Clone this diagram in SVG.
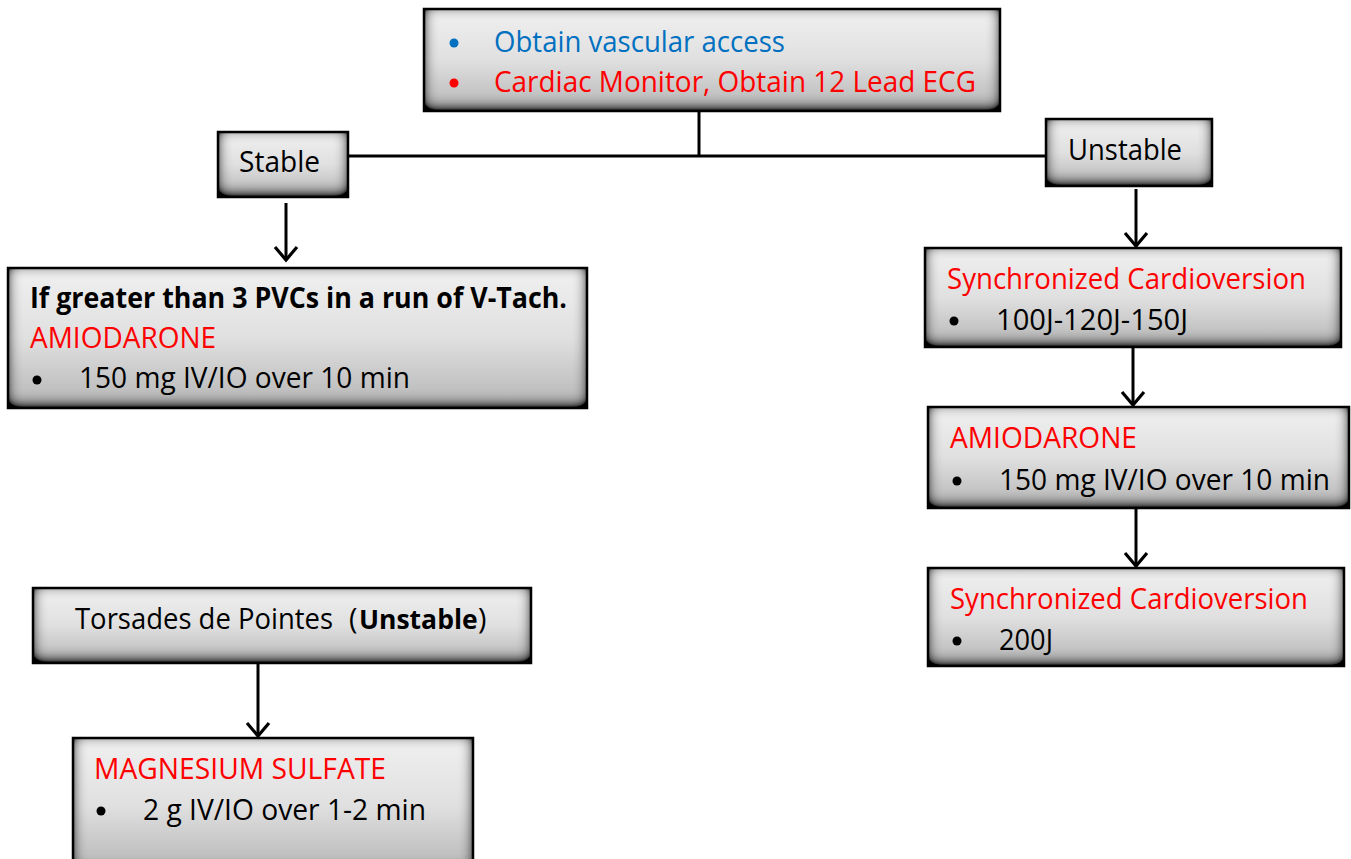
<svg xmlns="http://www.w3.org/2000/svg" width="1351" height="859" viewBox="0 0 1351 859">
<style>
.box{fill:url(#g);filter:url(#inner)}
.bd{fill:none;stroke:#000;stroke-width:2.5}
text{font-family:"Open Sans","Noto Sans","Liberation Sans",sans-serif;font-size:28.5px;fill:#000}
.red{fill:#ff0000}
.blue{fill:#0070c0}
.b{font-weight:bold}
.con{stroke:#000;stroke-width:3;fill:none}
</style>
<defs>
<linearGradient id="g" x1="0" y1="0" x2="0" y2="1">
<stop offset="0" stop-color="#f0f0f0"/>
<stop offset="0.5" stop-color="#e0e0e0"/>
<stop offset="1" stop-color="#b5b5b5"/>
</linearGradient>
<filter id="inner" x="-20%" y="-60%" width="140%" height="220%">
<feFlood flood-color="#000" result="f"/>
<feComposite in="f" in2="SourceAlpha" operator="out" result="o"/>
<feOffset in="o" dy="-3" result="oo"/>
<feGaussianBlur in="oo" stdDeviation="7" result="bl"/>
<feComposite in="bl" in2="SourceAlpha" operator="in" result="sh"/>
<feComponentTransfer in="sh" result="sh2"><feFuncA type="linear" slope="1.6"/></feComponentTransfer>
<feMerge><feMergeNode in="SourceGraphic"/><feMergeNode in="sh2"/></feMerge>
</filter>
<marker id="ah" viewBox="-15 -13 18 26" markerWidth="18" markerHeight="26" refX="0" refY="0" orient="auto" markerUnits="userSpaceOnUse">
<path d="M-13,-11 L0,0 L-13,11" fill="none" stroke="#000" stroke-width="3.2"/>
</marker>
</defs>

<g id="connectors">
<line class="con" x1="699" y1="111" x2="699" y2="156"/>
<line class="con" x1="348" y1="156" x2="1046" y2="156"/>
<line class="con" x1="286" y1="203" x2="286" y2="260" marker-end="url(#ah)"/>
<line class="con" x1="1136" y1="189" x2="1136" y2="246" marker-end="url(#ah)"/>
<line class="con" x1="1133" y1="347" x2="1133" y2="405" marker-end="url(#ah)"/>
<line class="con" x1="1136" y1="508" x2="1136" y2="566" marker-end="url(#ah)"/>
<line class="con" x1="258" y1="663" x2="258" y2="736" marker-end="url(#ah)"/>
</g>

<g id="top">
<rect class="box" x="424" y="9" width="576" height="102"/>
<rect class="bd" x="424" y="9" width="576" height="102"/>
<circle class="blue" cx="454" cy="43" r="4.5"/>
<text class="blue" x="494" y="52" textLength="291" lengthAdjust="spacingAndGlyphs">Obtain vascular access</text>
<circle class="red" cx="454" cy="83" r="4.5"/>
<text class="red" x="494" y="92" textLength="482" lengthAdjust="spacingAndGlyphs">Cardiac Monitor, Obtain 12 Lead ECG</text>
</g>

<g id="stable">
<rect class="box" x="218" y="132" width="130" height="65"/>
<rect class="bd" x="218" y="132" width="130" height="65"/>
<text x="239" y="172" textLength="81" lengthAdjust="spacingAndGlyphs">Stable</text>
</g>

<g id="unstable">
<rect class="box" x="1046" y="119" width="166" height="67"/>
<rect class="bd" x="1046" y="119" width="166" height="67"/>
<text x="1068" y="160" textLength="114" lengthAdjust="spacingAndGlyphs">Unstable</text>
</g>

<g id="stable-amio">
<rect class="box" x="8" y="268" width="579" height="140"/>
<rect class="bd" x="8" y="268" width="579" height="140"/>
<text class="b" x="30" y="308" textLength="537" lengthAdjust="spacingAndGlyphs">If greater than 3 PVCs in a run of V-Tach.</text>
<text class="red" x="30" y="348" textLength="186" lengthAdjust="spacingAndGlyphs">AMIODARONE</text>
<circle cx="37" cy="380" r="4.5"/>
<text x="79" y="388" textLength="331" lengthAdjust="spacingAndGlyphs">150 mg IV/IO over 10 min</text>
</g>

<g id="sync1">
<rect class="box" x="925" y="248" width="416" height="99"/>
<rect class="bd" x="925" y="248" width="416" height="99"/>
<text class="red" x="947" y="289" textLength="359" lengthAdjust="spacingAndGlyphs">Synchronized Cardioversion</text>
<circle cx="954" cy="321" r="4.5"/>
<text x="996" y="330" textLength="192" lengthAdjust="spacingAndGlyphs">100J-120J-150J</text>
</g>

<g id="amio-unstable">
<rect class="box" x="928" y="407" width="421" height="101"/>
<rect class="bd" x="928" y="407" width="421" height="101"/>
<text class="red" x="950" y="448" textLength="187" lengthAdjust="spacingAndGlyphs">AMIODARONE</text>
<circle cx="957" cy="481" r="4.5"/>
<text x="999" y="490" textLength="331" lengthAdjust="spacingAndGlyphs">150 mg IV/IO over 10 min</text>
</g>

<g id="sync2">
<rect class="box" x="928" y="568" width="416" height="98"/>
<rect class="bd" x="928" y="568" width="416" height="98"/>
<text class="red" x="950" y="609" textLength="358" lengthAdjust="spacingAndGlyphs">Synchronized Cardioversion</text>
<circle cx="957" cy="641" r="4.5"/>
<text x="999" y="650" textLength="54" lengthAdjust="spacingAndGlyphs">200J</text>
</g>

<g id="torsades">
<rect class="box" x="33" y="588" width="498" height="75"/>
<rect class="bd" x="33" y="588" width="498" height="75"/>
<text x="75" y="629" textLength="258" lengthAdjust="spacingAndGlyphs">Torsades de Pointes</text>
<text x="349" y="629">(</text>
<text class="b" x="359" y="629" style="font-size:26.5px">Unstable</text>
<text x="478" y="629">)</text>
</g>

<g id="magnesium">
<rect class="box" x="73" y="738" width="400" height="135"/>
<rect class="bd" x="73" y="738" width="400" height="135"/>
<text class="red" x="94" y="779" textLength="292" lengthAdjust="spacingAndGlyphs">MAGNESIUM SULFATE</text>
<circle cx="101" cy="811" r="4.5"/>
<text x="143" y="820" textLength="283" lengthAdjust="spacingAndGlyphs">2 g IV/IO over 1-2 min</text>
</g>
</svg>
